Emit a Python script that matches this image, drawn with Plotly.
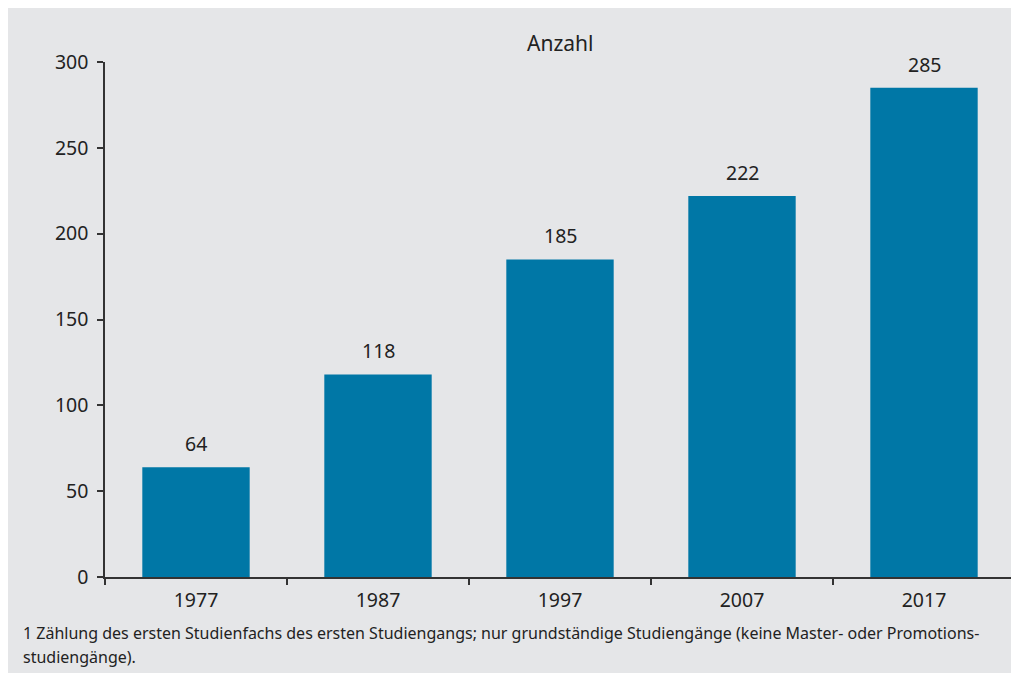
import plotly.graph_objects as go

years = ["1977", "1987", "1997", "2007", "2017"]
values = [64, 118, 185, 222, 285]
y_ticks = [0, 50, 100, 150, 200, 250, 300]
title_text = "Anzahl"
footnote_lines = [
    "1 Zählung des ersten Studienfachs des ersten Studiengangs; nur grundständige Studiengänge (keine Master- oder Promotions-",
    "studiengänge).",
]

BAR = "#0077A6"
BG = "#E5E6E8"
FONT = "Noto Sans"
TXT = "#222222"

# page offset of the figure (default body margin)
OFF = 8
W, H = 1019 - OFF, 673 - OFF
L, T = 105 - OFF, 62 - OFF
pw, ph = 910, 515
R = W - L - pw
B = H - T - ph

def px_x(p):
    return (p - OFF - L) / pw

def px_y(p):
    return (T + ph - (p - OFF)) / ph

fig = go.Figure()
fig.add_trace(go.Bar(x=years, y=values, marker=dict(color=BAR, line=dict(width=0)),
                     width=0.59, hoverinfo="skip"))

annotations = []
for i, v in enumerate(values):
    annotations.append(dict(x=i, y=v, xref="x", yref="y", text=str(v), showarrow=False,
                            yanchor="bottom", yshift=8, font=dict(family=FONT, size=19.5, color=TXT)))
annotations.append(dict(x=0.5, y=px_y(43), xref="paper", yref="paper", text=title_text,
                        showarrow=False, xanchor="center", yanchor="middle",
                        font=dict(family=FONT, size=21, color=TXT)))
for k, line in enumerate(footnote_lines):
    annotations.append(dict(x=px_x(21), y=px_y(633 + 24 * k), xref="paper", yref="paper", text=line,
                            showarrow=False, xanchor="left", yanchor="middle", align="left",
                            font=dict(family=FONT, size=16, color=TXT)))

fig.update_layout(
    width=W, height=H,
    margin=dict(l=L, r=R, t=T, b=B, pad=0),
    paper_bgcolor=BG, plot_bgcolor=BG,
    showlegend=False,
    annotations=annotations,
    xaxis=dict(type="category", categoryorder="array", categoryarray=years,
               range=[-0.5, len(years) - 0.5], tickson="boundaries", ticks="outside", ticklen=6,
               tickcolor="#333333", tickwidth=1.5, showline=True, linecolor="#333333", linewidth=1.5,
               showgrid=False, tickfont=dict(family=FONT, size=19.5, color=TXT),
               ticklabelstandoff=5, zeroline=False, fixedrange=True),
    yaxis=dict(range=[0, 300], tickvals=y_ticks, ticks="outside", ticklen=6,
               tickcolor="#333333", tickwidth=1.5, showline=True, linecolor="#333333", linewidth=1.5,
               showgrid=False, zeroline=False, tickfont=dict(family=FONT, size=19.5, color=TXT),
               ticklabelstandoff=5, fixedrange=True),
)

fig.write_html("out.html")
